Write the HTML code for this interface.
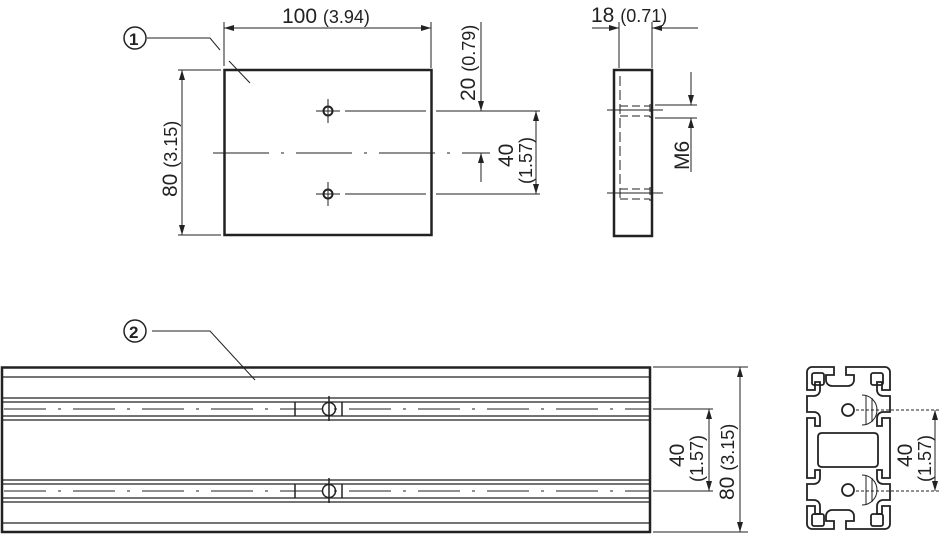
<!DOCTYPE html>
<html><head><meta charset="utf-8"><style>
html,body{margin:0;padding:0;background:#fff}
svg{display:block}
text{font-family:"Liberation Sans",sans-serif;fill:#222}
</style></head><body>
<svg width="940" height="535" viewBox="0 0 940 535" xmlns="http://www.w3.org/2000/svg">
<defs>
<marker id="a" viewBox="0 0 10 6" refX="10" refY="3" markerWidth="10" markerHeight="6" orient="auto-start-reverse" markerUnits="userSpaceOnUse"><path d="M0,0L10,3L0,6z" fill="#222"/></marker>
</defs>
<g stroke="#222" fill="none" stroke-width="1">
<rect x="224.5" y="70" width="207" height="165" stroke-width="2.5"/>
<line x1="213" y1="153" x2="490" y2="153" stroke-dasharray="56,12,3,12"/>
<circle cx="328" cy="111" r="4.5" stroke-width="2"/><line x1="316" y1="111" x2="340" y2="111"/><line x1="328" y1="99" x2="328" y2="123"/>
<circle cx="328" cy="194" r="4.5" stroke-width="2"/><line x1="316" y1="194" x2="340" y2="194"/><line x1="328" y1="182" x2="328" y2="206"/>
<line x1="345" y1="111" x2="426" y2="111"/><line x1="436" y1="111" x2="540" y2="111"/>
<line x1="345" y1="194" x2="426" y2="194"/><line x1="436" y1="194" x2="540" y2="194"/>
<line x1="224" y1="22" x2="224" y2="66"/><line x1="431" y1="22" x2="431" y2="68"/>
<line x1="224" y1="28" x2="431" y2="28" marker-start="url(#a)" marker-end="url(#a)"/>
<line x1="178" y1="70" x2="221" y2="70"/><line x1="178" y1="235" x2="221" y2="235"/>
<line x1="182" y1="70" x2="182" y2="235" marker-start="url(#a)" marker-end="url(#a)"/>
<line x1="481" y1="22" x2="481" y2="111" marker-end="url(#a)"/>
<line x1="481" y1="182" x2="481" y2="153" marker-end="url(#a)"/>
<line x1="536" y1="111" x2="536" y2="194" marker-start="url(#a)" marker-end="url(#a)"/>
<circle cx="135" cy="38" r="11" stroke-width="1.5"/>
<polyline points="147,38 210,38 220,50"/><line x1="229" y1="61" x2="250" y2="83"/>
<rect x="614" y="70" width="38" height="166" stroke-width="2.5"/>
<line x1="620" y1="76" x2="620" y2="200" stroke-dasharray="10,4"/>
<line x1="607" y1="110" x2="663" y2="110"/><line x1="607" y1="193" x2="663" y2="193"/>
<path d="M620,106 h30 M620,116 h30 M650,104 v14" stroke-dasharray="8,4"/>
<path d="M620,189 h30 M620,199 h30 M650,187 v14" stroke-dasharray="8,4"/>
<line x1="619" y1="22" x2="619" y2="68"/><line x1="652" y1="22" x2="652" y2="68"/>
<line x1="592" y1="28" x2="619" y2="28" marker-end="url(#a)"/>
<line x1="698" y1="28" x2="652" y2="28" marker-end="url(#a)"/>
<line x1="655" y1="105" x2="697" y2="105"/><line x1="655" y1="118" x2="697" y2="118"/>
<line x1="691" y1="72" x2="691" y2="105" marker-end="url(#a)"/>
<line x1="691" y1="172" x2="691" y2="118" marker-end="url(#a)"/>
<rect x="2" y="367.5" width="648" height="164.5" stroke-width="2.5"/>
<g stroke-width="1.2">
<line x1="2" y1="377" x2="650" y2="377"/>
<line x1="2" y1="398" x2="650" y2="398"/><line x1="2" y1="402" x2="650" y2="402"/>
<line x1="2" y1="416" x2="650" y2="416"/><line x1="2" y1="420" x2="650" y2="420"/>
<line x1="2" y1="480" x2="650" y2="480"/><line x1="2" y1="484" x2="650" y2="484"/>
<line x1="2" y1="498" x2="650" y2="498"/><line x1="2" y1="502" x2="650" y2="502"/>
<line x1="2" y1="523" x2="650" y2="523"/>
</g>
<line x1="4" y1="409" x2="650" y2="409" stroke-dasharray="42,12,3,12"/>
<line x1="4" y1="491" x2="650" y2="491" stroke-dasharray="42,12,3,12"/>
<g stroke-width="1.5">
<line x1="295" y1="402" x2="295" y2="416"/><line x1="342" y1="402" x2="342" y2="416"/>
<circle cx="329" cy="409" r="6.5"/><line x1="329" y1="396" x2="329" y2="421"/>
<line x1="295" y1="484" x2="295" y2="498"/><line x1="342" y1="484" x2="342" y2="498"/>
<circle cx="329" cy="491" r="6.5"/><line x1="329" y1="478" x2="329" y2="503"/>
</g>
<circle cx="135" cy="331" r="11" stroke-width="1.5"/>
<polyline points="152,331 210,331 255,380"/>
<line x1="653" y1="367" x2="748" y2="367"/><line x1="653" y1="532" x2="748" y2="532"/>
<line x1="653" y1="409" x2="713" y2="409"/><line x1="653" y1="491" x2="713" y2="491"/>
<line x1="740" y1="367" x2="740" y2="532" marker-start="url(#a)" marker-end="url(#a)"/>
<line x1="709" y1="409" x2="709" y2="491" marker-start="url(#a)" marker-end="url(#a)"/>
<g stroke-width="1.8">
<path d="M812,367 h22 v8 h-8 v5 a6,6 0 0 0 6,6 h16 a6,6 0 0 0 6,-6 v-5 h-8 v-8 h39 a5,5 0 0 1 5,5 v18 h-8 v-8 h-5 v8 a6,6 0 0 0 6,6 h7 v16 h-7 a6,6 0 0 0 -6,6 v8 h5 v-8 h8 v60 h-8 v-8 h-5 v8 a6,6 0 0 0 6,6 h7 v16 h-7 a6,6 0 0 0 -6,6 v8 h5 v-8 h8 v18 a5,5 0 0 1 -5,5 h-39 v-8 h8 v-5 a6,6 0 0 0 -6,-6 h-16 a6,6 0 0 0 -6,6 v5 h8 v8 h-22 a5,5 0 0 1 -5,-5 v-18 h8 v8 h5 v-8 a6,6 0 0 0 -6,-6 h-7 v-16 h7 a6,6 0 0 0 6,-6 v-8 h-5 v8 h-8 v-60 h8 v8 h5 v-8 a6,6 0 0 0 -6,-6 h-7 v-16 h7 a6,6 0 0 0 6,-6 v-8 h-5 v8 h-8 v-18 a5,5 0 0 1 5,-5z"/>
<rect x="812" y="373" width="12" height="12" rx="2"/>
<rect x="871" y="373" width="12" height="12" rx="2"/>
<rect x="812" y="514" width="12" height="12" rx="2"/>
<rect x="871" y="514" width="12" height="12" rx="2"/>
<path d="M818,437 q0,-4 4,-4 h52 q4,0 4,4 v26 q0,4 -4,4 h-52 q-4,0 -4,-4z"/>
<circle cx="848" cy="410" r="6"/><circle cx="848" cy="490" r="6"/>
</g>
<path d="M862,395 a15,15 0 0 1 0,30 M866,395 v30 M872,398 v24" stroke-width="1"/>
<path d="M862,475 a15,15 0 0 1 0,30 M866,475 v30 M872,478 v24" stroke-width="1"/>
<line x1="856" y1="410" x2="940" y2="410" stroke-dasharray="3,2"/>
<line x1="856" y1="491" x2="940" y2="491" stroke-dasharray="3,2"/>
<line x1="935" y1="410" x2="935" y2="491" marker-start="url(#a)" marker-end="url(#a)"/>
</g>
<g font-size="21">
<text x="282" y="23">100 <tspan font-size="18">(3.94)</tspan></text>
<text x="591" y="22">18 <tspan font-size="18">(0.71)</tspan></text>
<text transform="translate(177,197) rotate(-90)">80 <tspan font-size="18">(3.15)</tspan></text>
<text transform="translate(475,101) rotate(-90)">20 <tspan font-size="18">(0.79)</tspan></text>
<text transform="translate(513,167) rotate(-90)">40</text>
<text font-size="18" transform="translate(532,184) rotate(-90)">(1.57)</text>
<text transform="translate(689,170) rotate(-90)">M6</text>
<text transform="translate(684,467) rotate(-90)">40</text>
<text font-size="18" transform="translate(703,482) rotate(-90)">(1.57)</text>
<text transform="translate(734,500) rotate(-90)">80 <tspan font-size="18">(3.15)</tspan></text>
<text transform="translate(912,467) rotate(-90)">40</text>
<text font-size="18" transform="translate(931,482) rotate(-90)">(1.57)</text>
<text x="129" y="45" font-size="17" font-weight="bold">1</text>
<text x="129" y="338" font-size="17" font-weight="bold">2</text>
</g>
</svg>
</body></html>
